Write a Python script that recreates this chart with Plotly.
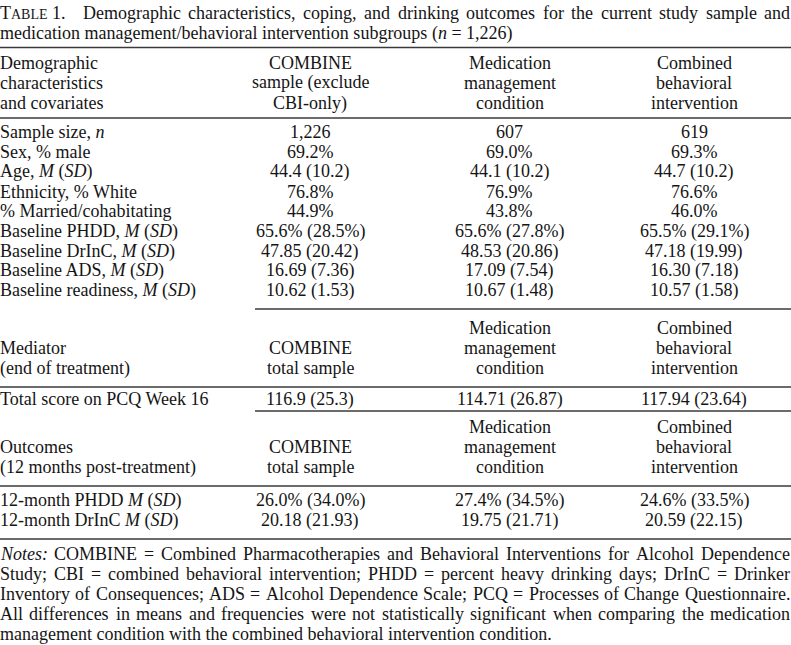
import plotly.graph_objects as go

W, H = 791, 645
FONT = "Liberation Serif"
FS = 18
COLOR = "#151515"
LINE_COLOR = "#3a3a3a"

# ---------------- data ----------------
title_line1 = "Demographic characteristics, coping, and drinking outcomes for the current study sample and"
title_line2 = "medication management/behavioral intervention subgroups (<i>n</i> = 1,226)"

header_col0 = ["Demographic", "characteristics", "and covariates"]
header_combine = ["COMBINE", "sample (exclude", "CBI-only)"]
header_med = ["Medication", "management", "condition"]
header_cbi = ["Combined", "behavioral", "intervention"]

demo_labels = [
    "Sample size, <i>n</i>",
    "Sex, % male",
    "Age, <i>M</i> (<i>SD</i>)",
    "Ethnicity, % White",
    "% Married/cohabitating",
    "Baseline PHDD, <i>M</i> (<i>SD</i>)",
    "Baseline DrInC, <i>M</i> (<i>SD</i>)",
    "Baseline ADS, <i>M</i> (<i>SD</i>)",
    "Baseline readiness, <i>M</i> (<i>SD</i>)",
]
demo_combine = ["1,226", "69.2%", "44.4 (10.2)", "76.8%", "44.9%", "65.6% (28.5%)",
                "47.85 (20.42)", "16.69 (7.36)", "10.62 (1.53)"]
demo_med = ["607", "69.0%", "44.1 (10.2)", "76.9%", "43.8%", "65.6% (27.8%)",
            "48.53 (20.86)", "17.09 (7.54)", "10.67 (1.48)"]
demo_cbi = ["619", "69.3%", "44.7 (10.2)", "76.6%", "46.0%", "65.5% (29.1%)",
            "47.18 (19.99)", "16.30 (7.18)", "10.57 (1.58)"]

mediator_label = ["Mediator", "(end of treatment)"]
total_sample_head = ["COMBINE", "total sample"]
pcq_label = "Total score on PCQ Week 16"
pcq_vals = ["116.9 (25.3)", "114.71 (26.87)", "117.94 (23.64)"]

outcome_label = ["Outcomes", "(12 months post-treatment)"]
outcome_rows = ["12-month PHDD <i>M</i> (<i>SD</i>)", "12-month DrInC <i>M</i> (<i>SD</i>)"]
outcome_combine = ["26.0% (34.0%)", "20.18 (21.93)"]
outcome_med = ["27.4% (34.5%)", "19.75 (21.71)"]
outcome_cbi = ["24.6% (33.5%)", "20.59 (22.15)"]

notes_lines = [
    "<i>Notes:</i> COMBINE = Combined Pharmacotherapies and Behavioral Interventions for Alcohol Dependence",
    "Study; CBI = combined behavioral intervention; PHDD = percent heavy drinking days; DrInC = Drinker",
    "Inventory of Consequences; ADS = Alcohol Dependence Scale; PCQ = Processes of Change Questionnaire.",
    "All differences in means and frequencies were not statistically significant when comparing the medication",
    "management condition with the combined behavioral intervention condition.",
]

# ---------------- layout helpers ----------------
COL_X = [310, 510, 694]
RIGHT = 790

# Times metrics (per 1000 em) used only to justify lines
TW = {' ': 250, '!': 333, '%': 833, '(': 333, ')': 333, ',': 250, '-': 333, '.': 250, '/': 278,
      ':': 278, ';': 278, '=': 564}
for c in '0123456789':
    TW[c] = 500
TW.update(dict(A=722, B=667, C=667, D=722, E=611, F=556, G=722, H=722, I=333, J=389, K=722, L=611,
               M=889, N=722, O=722, P=556, Q=722, R=667, S=556, T=611, U=722, V=722, W=944, X=722,
               Y=722, Z=611))
TW.update(dict(a=444, b=500, c=444, d=500, e=444, f=333, g=500, h=500, i=278, j=278, k=500, l=278,
               m=778, n=500, o=500, p=500, q=500, r=333, s=389, t=278, u=500, v=500, w=722, x=500,
               y=500, z=444))


def strip_tags(s):
    out, skip = [], False
    for ch in s:
        if ch == '<':
            skip = True
        elif ch == '>':
            skip = False
        elif not skip:
            out.append(ch)
    return ''.join(out)


def width(s, size=FS):
    return sum(TW.get(c, 500) for c in strip_tags(s)) * size / 1000.0


annotations = []
shapes = []


def px(x):
    return x / W


def py(y):
    return 1 - y / H


def add_text(text, x, y, anchor="left", size=FS):
    annotations.append(dict(
        text=text, x=px(x), y=py(y), xref="paper", yref="paper",
        xanchor=anchor, yanchor="middle", showarrow=False,
        borderpad=0, borderwidth=0,
        font=dict(family=FONT, size=size, color=COLOR),
    ))


def add_justified(words, y, x0=0, x1=RIGHT, widths=None):
    if widths is None:
        widths = [width(w) for w in words]
    gap = (x1 - x0 - sum(widths)) / (len(words) - 1)
    x = x0
    for w, wd in zip(words, widths):
        add_text(w, x, y)
        x += wd + gap


def hline(y, x0=0, x1=W):
    shapes.append(dict(type="line", xref="paper", yref="paper",
                       x0=px(x0), x1=px(x1), y0=py(y), y1=py(y),
                       line=dict(color=LINE_COLOR, width=1.4)))


# ---------------- title ----------------
table_label = "T<span style='font-size:14px'>ABLE</span> 1."
tl_w = (611 * FS + (722 + 667 + 611 + 611) * 14 + 250 * FS + 750 * FS) / 1000.0
t1_words = title_line1.split(" ")
title_words = [table_label] + t1_words
title_widths = [tl_w + 10] + [width(w) for w in t1_words]
add_justified(title_words, 13.5, widths=title_widths)
add_text(title_line2, 0, 33.5)

hline(47.5)

# ---------------- header ----------------
head_y = [63, 83, 103]
for i, y in enumerate(head_y):
    add_text(header_col0[i], 0, y)
    add_text(header_combine[i], COL_X[0], y, "center")
    add_text(header_med[i], COL_X[1], y, "center")
    add_text(header_cbi[i], COL_X[2], y, "center")

hline(118)

# ---------------- demographics ----------------
for i, lab in enumerate(demo_labels):
    y = 132 + i * 19.85
    add_text(lab, 0, y)
    add_text(demo_combine[i], COL_X[0], y, "center")
    add_text(demo_med[i], COL_X[1], y, "center")
    add_text(demo_cbi[i], COL_X[2], y, "center")

hline(309, 255, W)

# ---------------- mediator ----------------
mh = [328, 348, 368]
for i, y in enumerate(mh):
    add_text(header_med[i], COL_X[1], y, "center")
    add_text(header_cbi[i], COL_X[2], y, "center")
for i, y in enumerate(mh[1:]):
    add_text(mediator_label[i], 0, y)
    add_text(total_sample_head[i], COL_X[0], y, "center")

hline(387)

add_text(pcq_label, 0, 399)
for c, v in zip(COL_X, pcq_vals):
    add_text(v, c, 399, "center")

hline(411, 255, W)

# ---------------- outcomes ----------------
oh = [427, 447, 467]
for i, y in enumerate(oh):
    add_text(header_med[i], COL_X[1], y, "center")
    add_text(header_cbi[i], COL_X[2], y, "center")
for i, y in enumerate(oh[1:]):
    add_text(outcome_label[i], 0, y)
    add_text(total_sample_head[i], COL_X[0], y, "center")

hline(486)

for i, lab in enumerate(outcome_rows):
    y = 500 + i * 20
    add_text(lab, 0, y)
    add_text(outcome_combine[i], COL_X[0], y, "center")
    add_text(outcome_med[i], COL_X[1], y, "center")
    add_text(outcome_cbi[i], COL_X[2], y, "center")

hline(539)

# ---------------- notes ----------------
for i, line in enumerate(notes_lines):
    y = 554 + i * 20
    if i < len(notes_lines) - 1:
        add_justified(line.split(" "), y)
    else:
        add_text(line, 0, y)

fig = go.Figure()
fig.update_layout(
    width=W, height=H,
    margin=dict(l=0, r=0, t=0, b=0),
    paper_bgcolor="white", plot_bgcolor="white",
    xaxis=dict(visible=False, range=[0, 1]),
    yaxis=dict(visible=False, range=[0, 1]),
    annotations=annotations, shapes=shapes,
    showlegend=False,
)
fig.write_html("out.html",
               config={"displayModeBar": False, "staticPlot": True},
               post_script="document.body.style.margin='0';document.body.style.overflow='hidden';")
